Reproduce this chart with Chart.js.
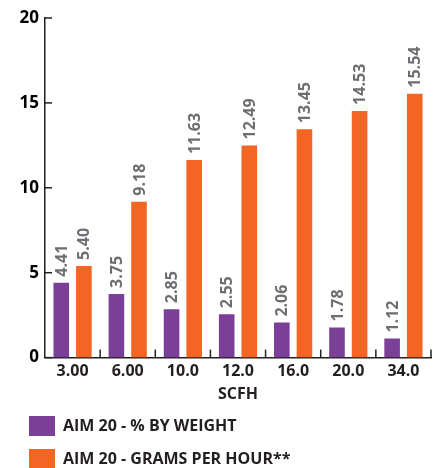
<!DOCTYPE html>
<html>
<head>
<meta charset="utf-8">
<script src="https://cdn.jsdelivr.net/npm/chart.js@4"></script>
<style>
  html, body { margin: 0; padding: 0; background: #fff; }
  #wrap { width: 440px; height: 468px; }
</style>
</head>
<body>
<div id="wrap"><canvas id="chart"></canvas></div>
<script>
// Chart data
let categories = ["3.00", "6.00", "10.0", "12.0", "16.0", "20.0", "34.0"];
let percentByWeight = [4.41, 3.75, 2.85, 2.55, 2.06, 1.78, 1.12];
let gramsPerHour = [5.40, 9.18, 11.63, 12.49, 13.45, 14.53, 15.54];
let seriesNames = ["AIM 20 - % BY WEIGHT", "AIM 20 - GRAMS PER HOUR**"];
let yTicks = [0, 5, 10, 15, 20];

let fontFamily = "'Open Sans', 'Noto Sans', sans-serif";
let ink = "#231f20";

// Values written above the bars, turned on their side
let barLabels = {
    id: "barLabels",
    afterDatasetsDraw(chart) {
        let ctx = chart.ctx;
        ctx.save();
        ctx.font = "bold 16px " + fontFamily;
        ctx.fillStyle = "#6d6e71";
        ctx.textAlign = "left";
        ctx.textBaseline = "middle";
        chart.data.datasets.forEach((ds, i) => {
            chart.getDatasetMeta(i).data.forEach((bar, j) => {
                ctx.save();
                ctx.translate(bar.x + 1, bar.y - 6);
                ctx.rotate(-Math.PI / 2);
                ctx.fillText(ds.data[j].toFixed(2), 0, 0);
                ctx.restore();
            });
        });
        ctx.restore();
    }
};

// Small tick marks pointing into the plot
let innerTicks = {
    id: "innerTicks",
    afterDraw(chart) {
        let ctx = chart.ctx;
        let x = chart.scales.x;
        let y = chart.scales.y;
        ctx.save();
        ctx.strokeStyle = ink;
        ctx.lineWidth = 1.5;
        yTicks.forEach(v => {
            let py = y.getPixelForValue(v);
            ctx.beginPath();
            ctx.moveTo(x.left, py);
            ctx.lineTo(x.left + 7, py);
            ctx.stroke();
        });
        for (let i = 1; i <= categories.length; i++) {
            let px = x.getPixelForValue(i - 0.5);
            ctx.beginPath();
            ctx.moveTo(px, y.bottom);
            ctx.lineTo(px, y.bottom - 8);
            ctx.stroke();
        }
        ctx.restore();
    }
};

let chart = new Chart(document.getElementById("chart"), {
    type: "bar",
    data: {
        labels: categories,
        datasets: [
            {
                label: seriesNames[0],
                data: percentByWeight,
                backgroundColor: "#7b3f98"
            },
            {
                label: seriesNames[1],
                data: gramsPerHour,
                backgroundColor: "#f26522"
            }
        ]
    },
    options: {
        responsive: true,
        maintainAspectRatio: false,
        animation: false,
        categoryPercentage: 0.82,
        barPercentage: 0.69,
        layout: {
            padding: { top: 18, right: 9, left: 16, bottom: -11 }
        },
        plugins: {
            tooltip: { enabled: false },
            legend: {
                position: "bottom",
                align: "start",
                labels: {
                    boxWidth: 26,
                    boxHeight: 20,
                    padding: 13,
                    color: ink,
                    font: { family: fontFamily, size: 16, weight: "bold" }
                }
            }
        },
        scales: {
            x: {
                grid: { display: false, drawTicks: false },
                border: { color: ink, width: 1.5 },
                ticks: {
                    padding: 4,
                    color: ink,
                    font: { family: fontFamily, size: 16, weight: "bold" }
                },
                title: {
                    display: true,
                    text: "SCFH",
                    color: ink,
                    padding: { top: 0, bottom: -1 },
                    font: { family: fontFamily, size: 16, weight: "bold" }
                }
            },
            y: {
                min: 0,
                max: 20,
                grid: { display: false, drawTicks: false },
                border: { color: ink, width: 1.5 },
                afterFit(scale) { scale.width = 29; },
                ticks: {
                    stepSize: 5,
                    padding: 6,
                    color: "#000",
                    font: { family: fontFamily, size: 17, weight: "bold" }
                }
            }
        }
    },
    plugins: [barLabels, innerTicks]
});
</script>
</body>
</html>
